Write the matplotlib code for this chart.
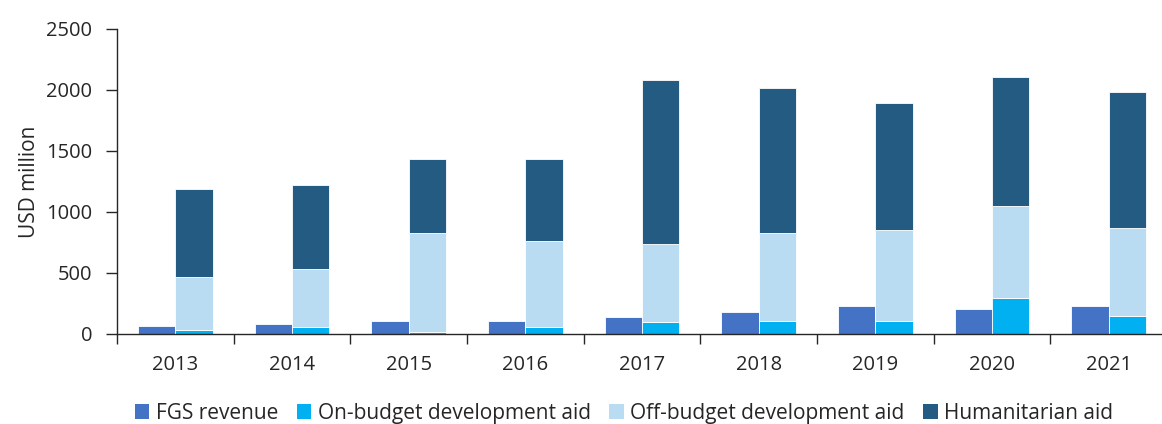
import numpy as np
import matplotlib.pyplot as plt
from matplotlib.patches import Patch

plt.rcParams["font.family"] = ["Open Sans", "DejaVu Sans"]

years = ["2013", "2014", "2015", "2016", "2017", "2018", "2019", "2020", "2021"]
fgs_revenue = [65, 80, 105, 105, 137, 178, 229, 205, 229]
on_budget = [30, 57, 15, 55, 96, 106, 106, 295, 145]
off_budget = [434, 478, 815, 707, 644, 724, 746, 753, 723]
humanitarian = [721, 683, 600, 668, 1338, 1187, 1037, 1057, 1112]

labels = ["FGS revenue", "On-budget development aid", "Off-budget development aid", "Humanitarian aid"]
colors = ["#4472C4", "#00B0F0", "#BADCF3", "#245B82"]

x = np.arange(len(years))
w = 0.32
on = np.array(on_budget)
off = np.array(off_budget)
hum = np.array(humanitarian)

fig = plt.figure(figsize=(11.62, 4.24), dpi=100)
ax = fig.add_axes([0.1007, 0.2123, 0.9036, 0.72])

kw = dict(width=w, edgecolor="white", linewidth=0.6)
ax.bar(x - w / 2, fgs_revenue, color=colors[0], **kw)
ax.bar(x + w / 2, on, color=colors[1], **kw)
ax.bar(x + w / 2, off, bottom=on, color=colors[2], **kw)
ax.bar(x + w / 2, hum, bottom=on + off, color=colors[3], **kw)

ax.set_xlim(-0.5, len(years) - 0.5)
ax.set_ylim(0, 2500)
ax.set_yticks([0, 500, 1000, 1500, 2000, 2500])
ax.set_xticks(x)
ax.set_xticklabels(years)
ax.set_xticks(np.arange(len(years) + 1) - 0.5, minor=True)
ax.tick_params(axis="x", which="major", length=0, pad=15, labelsize=14.5, labelcolor="#262626")
ax.tick_params(axis="x", which="minor", length=7, width=1, color="#262626", direction="out")
ax.tick_params(axis="y", length=8, width=1, color="#262626", labelsize=14.5, labelcolor="#262626", pad=10)
ax.set_ylabel("USD million", fontsize=15, color="#262626", labelpad=4)

for s in ["top", "right"]:
    ax.spines[s].set_visible(False)
for s in ["left", "bottom"]:
    ax.spines[s].set_color("#262626")
    ax.spines[s].set_linewidth(1)

handles = [Patch(facecolor=c, edgecolor="none") for c in colors]
fig.legend(handles, labels, loc="center", bbox_to_anchor=(0.537, 0.025), ncol=4, frameon=False,
           fontsize=15, handlelength=0.7, handleheight=0.7, handletextpad=0.3, columnspacing=0.9,
           labelcolor="#262626")

fig.savefig("out.png", dpi=100)
